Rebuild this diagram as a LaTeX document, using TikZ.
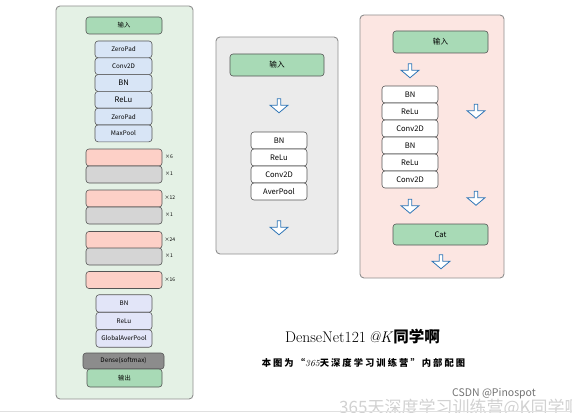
\documentclass[tikz,border=0pt]{standalone}
\usepackage{fontspec}
\newfontfamily\cjk{Noto Sans CJK SC}
\usetikzlibrary{shapes.arrows}
\definecolor{pgreen}{HTML}{E4F1E5}
\definecolor{pgray}{HTML}{EBEBEB}
\definecolor{ppink}{HTML}{FCE6E2}
\definecolor{bgreen}{HTML}{A8DAB6}
\definecolor{bblue}{HTML}{D8E5F6}
\definecolor{bpink}{HTML}{FDD0C7}
\definecolor{bgray}{HTML}{D5D5D5}
\definecolor{blav}{HTML}{E2E5F8}
\definecolor{bdark}{HTML}{8C8C8C}
\definecolor{arrblue}{HTML}{2E75B6}
\definecolor{pborder}{HTML}{8F8F8F}
\definecolor{bborder}{HTML}{555555}
\tikzset{
  panel/.style={draw=pborder, rounded corners=4pt, line width=0.9pt, inner sep=0pt},
  blk/.style={draw=bborder, rounded corners=3pt, line width=0.6pt, inner sep=0pt,
    font=\cjk\fontsize{6.3}{7}\selectfont},
  big/.style={font=\cjk\fontsize{7.6}{8}\selectfont},
  mul/.style={anchor=west, inner sep=0pt, font=\cjk\fontsize{5}{6}\selectfont},
  harrow/.style={single arrow, draw=arrblue, fill=white, line width=0.8pt,
    shape border rotate=270, minimum height=14pt, minimum width=8pt,
    single arrow head indent=0pt, single arrow tip angle=100, inner sep=1.4pt}
}
\begin{document}
\begin{tikzpicture}[x=1pt,y=-1pt]
\useasboundingbox (0,0) rectangle (572,412);
% ---------- left panel ----------
\node[panel, fill=pgreen, minimum width=137, minimum height=393] (P1) at (124.5,202.5) {};
\node[blk, fill=bgreen, minimum width=76, minimum height=17] (in1) at (124,25.5) {输入};
\node[blk, fill=bblue, minimum width=57, minimum height=16.8] (zp1) at (123.5,49.4) {ZeroPad};
\node[blk, fill=bblue, minimum width=57, minimum height=16.8] (cv1) at (123.5,66.2) {Conv2D};
\node[blk, big, fill=bblue, minimum width=57, minimum height=16.8] (bn1) at (123.5,83) {BN};
\node[blk, big, fill=bblue, minimum width=57, minimum height=16.8] (re1) at (123.5,99.8) {ReLu};
\node[blk, fill=bblue, minimum width=57, minimum height=16.8] (zp2) at (123.5,116.6) {ZeroPad};
\node[blk, fill=bblue, minimum width=57, minimum height=16.8] (mp1) at (123.5,133.4) {MaxPool};
%
\node[blk, fill=bpink, minimum width=76, minimum height=17] (d1) at (124,157.5) {};
\node[blk, fill=bgray, minimum width=76, minimum height=17] (t1) at (124,174.5) {};
\node[blk, fill=bpink, minimum width=76, minimum height=17] (d2) at (124,198.5) {};
\node[blk, fill=bgray, minimum width=76, minimum height=17] (t2) at (124,215.5) {};
\node[blk, fill=bpink, minimum width=76, minimum height=17] (d3) at (124,240) {};
\node[blk, fill=bgray, minimum width=76, minimum height=17] (t3) at (124,256.5) {};
\node[blk, fill=bpink, minimum width=76, minimum height=17] (d4) at (124,280) {};
\node[mul] (m1) at (165,157) {×6};
\node[mul] (m2) at (165,173.5) {×1};
\node[mul] (m3) at (164.5,198) {×12};
\node[mul] (m4) at (165,214.5) {×1};
\node[mul] (m5) at (164.5,240) {×24};
\node[mul] (m6) at (165,256) {×1};
\node[mul] (m7) at (164.5,280) {×16};
%
\node[blk, fill=blav, minimum width=56, minimum height=17.5] (bn2) at (124,303.5) {BN};
\node[blk, fill=blav, minimum width=56, minimum height=17.5] (re2) at (124,321) {ReLu};
\node[blk, fill=blav, minimum width=56, minimum height=17.5] (gap) at (124,338.5) {GlobalAverPool};
\node[blk, fill=bdark, minimum width=81, minimum height=16] (dense) at (123.5,361) {Dense(softmax)};
\node[blk, fill=bgreen, minimum width=75, minimum height=18] (out) at (124.5,378) {输出};
% ---------- middle panel ----------
\node[panel, fill=pgray, minimum width=122, minimum height=217] (P2) at (277,145.5) {};
\node[blk, big, fill=bgreen, minimum width=94, minimum height=22] (in2) at (277,65) {输入};
\node[harrow] (a1) at (279,105) {};
\node[blk, big, fill=white, minimum width=56, minimum height=17] (tbn) at (279,140.5) {BN};
\node[blk, big, fill=white, minimum width=56, minimum height=17] (tre) at (279,157.5) {ReLu};
\node[blk, big, fill=white, minimum width=56, minimum height=17] (tcv) at (279,174.5) {Conv2D};
\node[blk, big, fill=white, minimum width=56, minimum height=17] (tap) at (279,191.5) {AverPool};
\node[harrow] (a2) at (279,227) {};
% ---------- right panel ----------
\node[panel, fill=ppink, minimum width=144, minimum height=263] (P3) at (432,146.5) {};
\node[blk, big, fill=bgreen, minimum width=95, minimum height=22] (in3) at (440.5,42) {输入};
\node[harrow] (a3) at (410,70) {};
\node[blk, big, fill=white, minimum width=56, minimum height=17] (r1) at (410,94.5) {BN};
\node[blk, big, fill=white, minimum width=56, minimum height=17] (r2) at (410,111.5) {ReLu};
\node[blk, big, fill=white, minimum width=56, minimum height=17] (r3) at (410,128.5) {Conv2D};
\node[blk, big, fill=white, minimum width=56, minimum height=17] (r4) at (410,145.5) {BN};
\node[blk, big, fill=white, minimum width=56, minimum height=17] (r5) at (410,162.5) {ReLu};
\node[blk, big, fill=white, minimum width=56, minimum height=17] (r6) at (410,179.5) {Conv2D};
\node[harrow] (a4) at (476,110.5) {};
\node[harrow] (a5) at (476,197.5) {};
\node[harrow] (a6) at (410,205.5) {};
\node[blk, big, fill=bgreen, minimum width=95, minimum height=21] (cat) at (440.5,234.5) {Cat};
\node[harrow] (a7) at (441,261) {};
% ---------- titles ----------
\node[inner sep=0pt] (title) at (362.5,337) {\fontsize{15.5}{16}\selectfont DenseNet121\,\textit{@K}{\cjk\bfseries 同学啊}};
\node[inner sep=0pt] (sub) at (363.5,363) {\cjk\bfseries\fontsize{9.3}{10}\selectfont\addfontfeature{LetterSpace=22}本图为“{\rmfamily\mdseries\itshape 365}天深度学习训练营”内部配图};
% ---------- watermarks ----------
\node[inner sep=0pt, anchor=west, text=black!55] (csdn) at (452,394) {\cjk\fontsize{10.5}{11}\selectfont CSDN @Pinospot};
\node[inner sep=0pt, anchor=west, text=black!18] (wm) at (339,408) {\cjk\fontsize{17}{18}\selectfont 365天深度学习训练营@K同学啊};
\draw[black!12, line width=1pt] (0,411.5) -- (572,411.5);
\end{tikzpicture}
\end{document}
